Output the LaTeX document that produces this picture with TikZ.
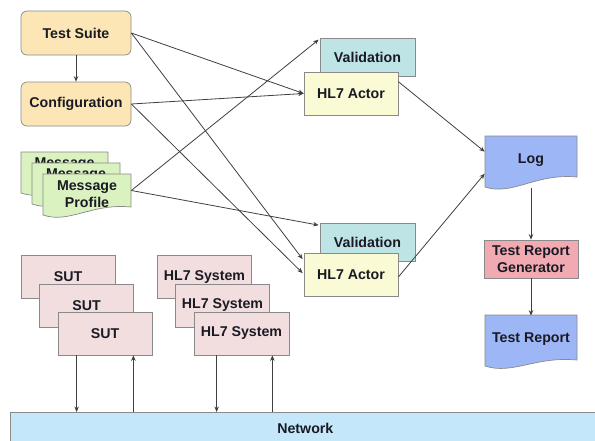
\documentclass[tikz,border=0pt]{standalone}
\usepackage{fontspec}
\setmainfont{Liberation Sans}
\usetikzlibrary{arrows.meta,calc}
\definecolor{peach}{HTML}{FCE6B6}
\definecolor{msggreen}{HTML}{D9F2C0}
\definecolor{valteal}{HTML}{BEE4E6}
\definecolor{actyellow}{HTML}{FAFAD4}
\definecolor{docblue}{HTML}{9DB6F6}
\definecolor{gennpink}{HTML}{F2AAB2}
\definecolor{sutpink}{HTML}{F2DEDE}
\definecolor{netblue}{HTML}{C4E8FA}
\definecolor{edgegray}{HTML}{8A8A8A}
\definecolor{linegray}{HTML}{404040}
\definecolor{txtcol}{HTML}{1A1A24}
\newcommand\docshape[6]{%
  \filldraw[#1] (#2,#3) -- (#4,#3) -- (#4,#6)
    .. controls ({#4-0.45*(#4-#2)},{#6-4}) and ({#2+0.3*(#4-#2)},{#5+9}) .. (#2,#5) -- cycle;}
\begin{document}
\begin{tikzpicture}[x=1pt,y=-1pt,
  base/.style={draw=edgegray, line width=0.7pt, font=\fontsize{14.2}{17}\selectfont\bfseries,
    text=txtcol, align=center, inner sep=0pt},
  rbox/.style={base, rounded corners=6pt, fill=peach, minimum width=110, minimum height=44},
  valbox/.style={base, fill=valteal, minimum width=95, minimum height=38},
  actbox/.style={base, fill=actyellow, minimum width=94, minimum height=43},
  sutbox/.style={base, fill=sutpink, minimum width=94, minimum height=43},
  genbox/.style={base, fill=gennpink, minimum width=94, minimum height=38},
  docfill/.style={draw=edgegray, line width=0.7pt, fill=#1},
  txt/.style={base, draw=none, fill=none},
  conn/.style={draw=linegray, line width=0.8pt, -{Stealth[length=5.5pt,width=4.5pt]}}
]
\clip (0,0) rectangle (595,440);
\fill[white] (0,0) rectangle (595,440);

% left column
\node[rbox] (ts) at (76,33) {Test Suite};
\node[rbox] (cfg) at (76,104) {Configuration};

% message profile stack
\docshape{docfill=msggreen}{21}{152}{108}{193}{185}
\node[txt] (mp1) at (64.5,164) {Message};
\docshape{docfill=msggreen}{32}{163}{120}{204}{196}
\node[txt] (mp2) at (76,175) {Message};
\docshape{docfill=msggreen}{43}{174}{131}{215}{207}
\node[txt, minimum width=88, minimum height=41] (mp) at (87,194.5) {Message\\Profile};

% actors
\node[valbox] (val1) at (367.5,57) {Validation};
\node[actbox] (act1) at (351,93.5) {HL7 Actor};
\node[valbox] (val2) at (367.5,242.5) {Validation};
\node[actbox] (act2) at (351,275) {HL7 Actor};

% log and report
\docshape{docfill=docblue}{485}{136}{577}{187}{177}
\node[txt, minimum width=92, minimum height=48] (log) at (531,160) {Log};
\node[genbox] (gen) at (531,259) {Test Report\\Generator};
\docshape{docfill=docblue}{485}{315}{577}{366}{360}
\node[txt, minimum width=92, minimum height=46] (rep) at (531,339) {Test Report};

% systems
\node[sutbox] (s1) at (68,277) {SUT};
\node[sutbox] (s2) at (86.5,305.5) {SUT};
\node[sutbox] (s3) at (105,333.5) {SUT};
\node[sutbox] (h1) at (204.5,277) {HL7 System};
\node[sutbox] (h2) at (222.5,305.5) {HL7 System};
\node[sutbox, minimum width=95] (h3) at (241.5,333.5) {HL7 System};

% network
\node[base, fill=netblue, minimum width=590, minimum height=32, anchor=north west] (net) at (10,412) {Network};

% connectors
\draw[conn] (ts.south) -- (cfg.north);
\draw[conn] (ts.east) -- (act1.west);
\draw[conn] (cfg.east) -- (act1.west);
\draw[conn] ($(mp.east)+(0,-4)$) -- ($(val1.north west)+(-1,2)$);
\draw[conn] ($(mp.east)+(0,-4)$) -- ($(val2.north west)+(-1,2)$);
\draw[conn] (ts.east) -- ($(act2.north west)+(-1,6)$);
\draw[conn] (cfg.east) -- ($(act2.north west)+(-1,20)$);
\draw[conn] ($(act1.north east)+(0,10)$) -- ($(log.north west)+(0,16)$);
\draw[conn] ($(act2.east)+(0,2)$) -- ($(log.north west)+(0,38)$);
\draw[conn] ($(log.south)+(0,4)$) -- (gen.north);
\draw[conn] (gen.south) -- (rep.north);

\coordinate (sd) at ($(s3.south west)+(19,0)$);
\coordinate (su) at ($(s3.south east)+(-19,0)$);
\coordinate (hd) at ($(h3.south west)+(23,0)$);
\coordinate (hu) at ($(h3.south east)+(-17,0)$);
\draw[conn] (sd) -- (sd |- net.north);
\draw[conn] (su |- net.north) -- (su);
\draw[conn] (hd) -- (hd |- net.north);
\draw[conn] (hu |- net.north) -- (hu);
\end{tikzpicture}
\end{document}
